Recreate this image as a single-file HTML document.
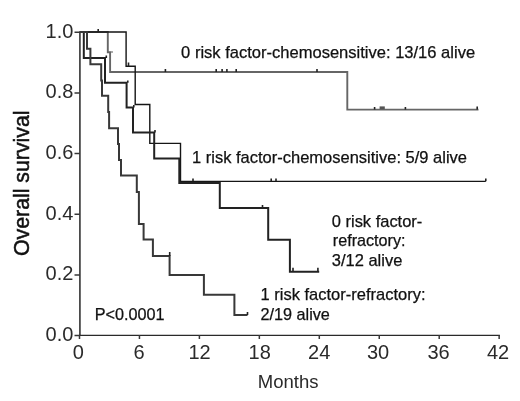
<!DOCTYPE html>
<html>
<head>
<meta charset="utf-8">
<style>
html,body{margin:0;padding:0;background:#fff;width:520px;height:401px;overflow:hidden;}
svg{display:block;will-change:transform;}
text{font-family:"Liberation Sans",sans-serif;}
</style>
</head>
<body>
<svg width="520" height="401" viewBox="0 0 520 401">
<rect width="520" height="401" fill="#fff"/>
<path d="M79.9,31.3 V335.4" stroke="#4a4a4a" stroke-width="1.8" fill="none"/>
<path d="M79,335.4 H499.9" stroke="#2a2a2a" stroke-width="1.4" fill="none"/>
<g stroke="#383838" stroke-width="1.5" fill="none">
<path d="M74.5,32.2 H80 M74.5,92.9 H80 M74.5,153.6 H80 M74.5,214.3 H80 M74.5,275 H80 M74.5,335.4 H80"/>
<path d="M79.5,335 V339 M139.45,335 V339 M199.4,335 V339 M259.35,335 V339 M319.3,335 V339 M379.25,335 V339 M439.2,335 V339 M499.15,335 V339"/>
</g>
<g font-size="20" fill="#2a2a2a" text-anchor="end">
<text x="73.4" y="37.9">1.0</text>
<text x="73.4" y="98.3">0.8</text>
<text x="73.4" y="159.0">0.6</text>
<text x="73.4" y="219.7">0.4</text>
<text x="73.4" y="280.3">0.2</text>
<text x="73.4" y="340.8">0.0</text>
</g>
<g font-size="20" fill="#2a2a2a" text-anchor="middle">
<text x="78.3" y="358.6">0</text>
<text x="139" y="358.6">6</text>
<text x="199.5" y="358.6">12</text>
<text x="259.7" y="358.6">18</text>
<text x="319.2" y="358.6">24</text>
<text x="378" y="358.6">30</text>
<text x="438.5" y="358.6">36</text>
<text x="498" y="358.6">42</text>
</g>
<text x="257.8" y="387.7" font-size="18.5" fill="#2a2a2a">Months</text>
<text transform="translate(28.9,256.0) rotate(-90)" font-size="21.3" fill="#111" stroke="#111" stroke-width="0.5">Overall survival</text>
<path d="M80,32 H107.8 V52.2 H110.1 V72 H347.3 V109.6 H478.5" stroke="#666" stroke-width="1.9" fill="none"/>
<path d="M80,32 H126.1 V66.3 H135.2 V104.5 H149.8 V143.4 H180.5 V181.4 H485.8" stroke="#151515" stroke-width="1.4" fill="none"/>
<path d="M80,32 H83.8 V58 H105 V82.8 H126.6 V107.5 H133 V132.4 H154.2 V158.5 H179.3 V183 H219.8 V208.1 H268.2 V239.7 H289.9 V271.7 H319.2" stroke="#222" stroke-width="2" fill="none"/>
<path d="M80,32 H87 V48.8 H90.4 V64.2 H101.2 V80.5 H102 V95.8 H108.2 V112 H109.1 V128.3 H118 V144 H119 V160 H121 V175.4 H136.8 V191.9 H138.9 V224 H143.6 V239.4 H152.9 V256 H169.6 V275 H203.9 V294.8 H234.4 V315 H247.5" stroke="#383838" stroke-width="2" fill="none"/>
<g stroke="#222" stroke-width="1.6" fill="none">
<path d="M98.2,29 V32 M111.5,52 H112.5 M165.4,69 V72 M216.2,69 V72 M222.1,69 V72 M226.9,69 V72 M236.2,69 V72 M317,69 V72 M374.6,107 V109.6 M405.4,107 V109.6 M477.2,106.5 V109.6 M128.5,62.5 V66.3 M193,178.5 V181.2 M271.2,178.5 V181.2 M276,178.5 V181.2 M485.8,178.5 V181.2 M106.3,55.5 V58 M127.8,80.5 V82.8 M133.8,105 V107.5 M155,130 V132.4 M262.5,205 V208.1 M293,267.7 V271.7 M317.9,267.7 V271.7 M169.7,252 V256 M247.5,312 V315"/>
</g>
<rect x="379.6" y="106.4" width="5.2" height="2.8" fill="#555"/>
<g font-size="16.2" fill="#111" stroke="#111" stroke-width="0.25">
<text x="181.10" y="57.60" textLength="294.00" lengthAdjust="spacingAndGlyphs">0 risk factor-chemosensitive: 13/16 alive</text>
<text x="192.00" y="162.60" textLength="275.00" lengthAdjust="spacingAndGlyphs">1 risk factor-chemosensitive: 5/9 alive</text>
<text x="331.80" y="226.60" textLength="90.50" lengthAdjust="spacingAndGlyphs">0 risk factor-</text>
<text x="332.80" y="245.80" textLength="72.70" lengthAdjust="spacingAndGlyphs">refractory:</text>
<text x="331.80" y="266.00" textLength="70.50" lengthAdjust="spacingAndGlyphs">3/12 alive</text>
<text x="260.50" y="299.90" textLength="165.00" lengthAdjust="spacingAndGlyphs">1 risk factor-refractory:</text>
<text x="260.40" y="319.80" textLength="69.50" lengthAdjust="spacingAndGlyphs">2/19 alive</text>
<text x="94.70" y="320.00" textLength="69.90" lengthAdjust="spacingAndGlyphs">P&lt;0.0001</text>
</g>
</svg>
</body>
</html>
